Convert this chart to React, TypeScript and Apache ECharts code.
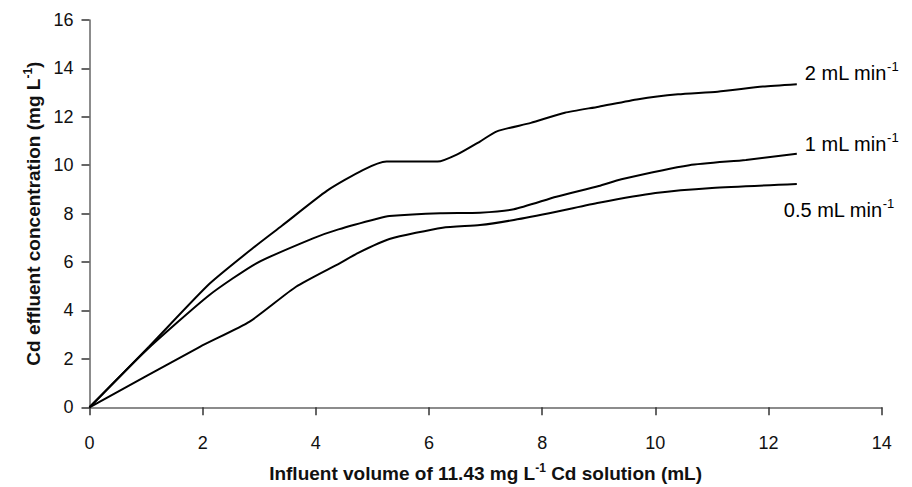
import React, { useEffect, useRef } from "react";
import * as echarts from "echarts";

const flow2: [number, number][] = [
  [0, 0], [1.05, 2.5], [2.12, 5.1], [2.9, 6.6], [3.4, 7.5], [4.2, 8.95], [4.83, 9.8],
  [5.25, 10.15], [6.15, 10.15], [6.5, 10.45], [6.9, 10.98], [7.2, 11.4], [7.8, 11.75],
  [8.4, 12.17], [9.0, 12.42], [9.7, 12.73], [10.4, 12.93], [11.1, 13.04], [11.9, 13.25], [12.5, 13.35],
];
const flow1: [number, number][] = [
  [0, 0], [1.0, 2.35], [2.12, 4.64], [2.95, 5.95], [3.95, 6.98], [4.4, 7.35], [5.1, 7.8],
  [5.3, 7.9], [6.2, 8.02], [6.9, 8.04], [7.5, 8.18], [8.25, 8.7], [9.0, 9.14], [9.4, 9.42],
  [10.6, 10.0], [11.6, 10.22], [12.5, 10.47],
];
const flow05: [number, number][] = [
  [0, 0], [1.95, 2.5], [2.83, 3.54], [3.65, 4.98], [4.42, 5.95], [4.75, 6.38], [5.3, 6.95],
  [6.24, 7.42], [6.9, 7.53], [7.5, 7.74], [8.25, 8.08], [9.0, 8.45], [10.0, 8.85], [11.0, 9.06],
  [12.5, 9.22],
];
const seriesNames = ["2 mL min", "1 mL min", "0.5 mL min"];
const xTitle = "Influent volume of 11.43 mg L";
const xTitleEnd = " Cd solution (mL)";
const yTitle = "Cd effluent concentration (mg L";

const FONT = "'Liberation Sans', Arial, Helvetica, sans-serif";

export default function App() {
  const ref = useRef<HTMLDivElement>(null);
  useEffect(() => {
    if (!ref.current) return;
    const chart = echarts.init(ref.current, null, { renderer: "svg" });
    const labelRich = {
      sup: { fontSize: 13, verticalAlign: "top" as const, lineHeight: 26, fontFamily: FONT, color: "#000" },
      main: { fontSize: 20, lineHeight: 26, fontFamily: FONT, color: "#000" },
    };
    const titleRich = {
      b: { fontSize: 19, fontWeight: "bold", fontFamily: FONT, color: "#111", lineHeight: 22 },
      sup: { fontSize: 12, fontWeight: "bold", verticalAlign: "top" as const, lineHeight: 22, fontFamily: FONT, color: "#111" },
    };
    const mkSeries = (name: string, data: [number, number][], offset: [number, number]) => ({
      type: "line",
      name,
      data,
      smooth: 0.2,
      symbol: "none",
      lineStyle: { color: "#000", width: 2 },
      endLabel: {
        show: true,
        formatter: `{main|${name}}{sup|-1}`,
        offset,
        rich: labelRich,
      },
    });
    chart.setOption({
      animation: false,
      backgroundColor: "#fff",
      grid: {
        left: 89.5, right: 30.3, top: 20, bottom: 79.7,
        containLabel: false, outerBoundsMode: "none",
      },
      xAxis: {
        type: "value",
        min: 0,
        max: 14,
        interval: 2,
        splitLine: { show: false },
        axisLine: { lineStyle: { color: "#666", width: 1.5 } },
        axisTick: { show: true, length: 8, lineStyle: { color: "#333", width: 1.5 } },
        axisLabel: { fontSize: 18, color: "#111", fontFamily: FONT, margin: 27 },
        name: `{b|${xTitle}}{sup|-1}{b|${xTitleEnd}}`,
        nameLocation: "middle",
        nameGap: 55,
        nameTextStyle: { rich: titleRich },
      },
      yAxis: {
        type: "value",
        min: 0,
        max: 16,
        interval: 2,
        splitLine: { show: false },
        axisLine: { show: true, lineStyle: { color: "#666", width: 1.5 } },
        axisTick: { show: true, length: 8, lineStyle: { color: "#333", width: 1.5 } },
        axisLabel: { fontSize: 18, color: "#111", fontFamily: FONT, margin: 16 },
        name: `{b|${yTitle}}{sup|-1}{b|)}`,
        nameLocation: "middle",
        nameGap: 45,
        nameRotate: 90,
        nameTextStyle: { rich: titleRich },
      },
      series: [
        mkSeries(seriesNames[0], flow2, [0, -11]),
        mkSeries(seriesNames[1], flow1, [0, -10]),
        mkSeries(seriesNames[2], flow05, [-21, 26]),
      ],
    });
    return () => chart.dispose();
  }, []);
  return (
    <div
      ref={ref}
      style={{ position: "fixed", left: 0, top: 0, width: 912, height: 487, background: "#fff" }}
    />
  );
}
